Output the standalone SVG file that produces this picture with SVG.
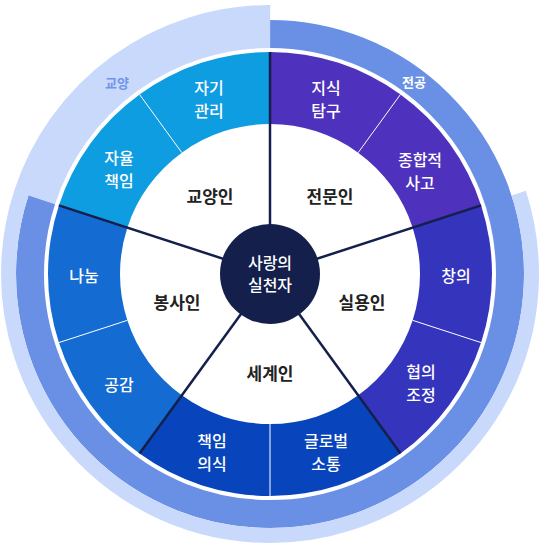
<svg xmlns="http://www.w3.org/2000/svg" width="540" height="550" viewBox="0 0 540 550">
<style>
.lbl{font-family:"Noto Sans CJK KR","Noto Sans",sans-serif;font-size:16px;fill:#ffffff;text-anchor:middle;font-weight:500}
.sec{font-family:"Noto Sans CJK KR","Noto Sans",sans-serif;font-size:17px;fill:#222222;text-anchor:middle;font-weight:700}
.ctr{font-family:"Noto Sans CJK KR","Noto Sans",sans-serif;font-size:16px;fill:#ffffff;text-anchor:middle;font-weight:500}
.ring{font-family:"Noto Sans CJK KR","Noto Sans",sans-serif;font-size:13px;text-anchor:middle;font-weight:700}
.sub{stroke:#ffffff;stroke-width:1}
.div{stroke:#141f4c;stroke-width:2.5}
</style>
<rect width="540" height="550" fill="#ffffff"/>
<g id="rings" fill="none">
<circle cx="270" cy="274" r="240" stroke="#6990e5" stroke-width="28" stroke-dasharray="1206.37 3000" transform="rotate(-90 270 274)"/>
<circle cx="270" cy="274" r="261.5" stroke="#c9d9fc" stroke-width="15" stroke-dasharray="985.83 3000" transform="rotate(-18 270 274)"/>
<circle cx="270" cy="274" r="247.5" stroke="#c9d9fc" stroke-width="43" stroke-dasharray="311.02 3000" transform="rotate(198 270 274)"/>
<text class="ring" x="117" y="88" fill="#7294ea">교양</text>
<text class="ring" x="414" y="87" fill="#ffffff">전공</text>
</g>
<g id="gyoyang">
<path d="M58.87,205.40 A222,222 0 0 1 270,52 L270,124 A150,150 0 0 0 127.34,227.65 Z" fill="#0f9de1"/>
<line class="sub" x1="139.51" y1="94.40" x2="181.83" y2="152.65"/>
<text class="lbl" x="209" y="94">자기</text><text class="lbl" x="209" y="117">관리</text>
<text class="lbl" x="119" y="164">자율</text><text class="lbl" x="119" y="187">책임</text>
<text class="sec" x="210" y="203">교양인</text>
</g>
<g id="jeonmun">
<path d="M270,52 A222,222 0 0 1 481.13,205.40 L412.66,227.65 A150,150 0 0 0 270,124 Z" fill="#4e31bc"/>
<line class="sub" x1="400.49" y1="94.40" x2="358.17" y2="152.65"/>
<text class="lbl" x="326" y="94">지식</text><text class="lbl" x="326" y="117">탐구</text>
<text class="lbl" x="420" y="166">종합적</text><text class="lbl" x="420" y="189">사고</text>
<text class="sec" x="330" y="203">전문인</text>
</g>
<g id="silyong">
<path d="M481.13,205.40 A222,222 0 0 1 400.49,453.60 L358.17,395.35 A150,150 0 0 0 412.66,227.65 Z" fill="#3434bd"/>
<line class="sub" x1="481.13" y1="342.60" x2="412.66" y2="320.35"/>
<text class="lbl" x="456" y="282">창의</text>
<text class="lbl" x="421" y="378">협의</text><text class="lbl" x="421" y="401">조정</text>
<text class="sec" x="362" y="309">실용인</text>
</g>
<g id="segye">
<path d="M400.49,453.60 A222,222 0 0 1 139.51,453.60 L181.83,395.35 A150,150 0 0 0 358.17,395.35 Z" fill="#0845bc"/>
<line class="sub" x1="270" y1="496" x2="270" y2="424"/>
<text class="lbl" x="212" y="447">책임</text><text class="lbl" x="212" y="470">의식</text>
<text class="lbl" x="326" y="447">글로벌</text><text class="lbl" x="326" y="470">소통</text>
<text class="sec" x="270" y="380">세계인</text>
</g>
<g id="bongsa">
<path d="M139.51,453.60 A222,222 0 0 1 58.87,205.40 L127.34,227.65 A150,150 0 0 0 181.83,395.35 Z" fill="#146cd2"/>
<line class="sub" x1="58.87" y1="342.60" x2="127.34" y2="320.35"/>
<text class="lbl" x="84" y="282">나눔</text>
<text class="lbl" x="119" y="391">공감</text>
<text class="sec" x="177" y="309">봉사인</text>
</g>
<g id="connectors">
<line class="div" x1="270" y1="52" x2="270" y2="274"/>
<line class="div" x1="481.13" y1="205.40" x2="270" y2="274"/>
<line class="div" x1="400.49" y1="453.60" x2="270" y2="274"/>
<line class="div" x1="139.51" y1="453.60" x2="270" y2="274"/>
<line class="div" x1="58.87" y1="205.40" x2="270" y2="274"/>
</g>
<g id="center">
<circle cx="270" cy="274" r="50" fill="#141f4c"/>
<text class="ctr" x="270" y="269">사랑의</text>
<text class="ctr" x="270" y="291">실천자</text>
</g>
</svg>
